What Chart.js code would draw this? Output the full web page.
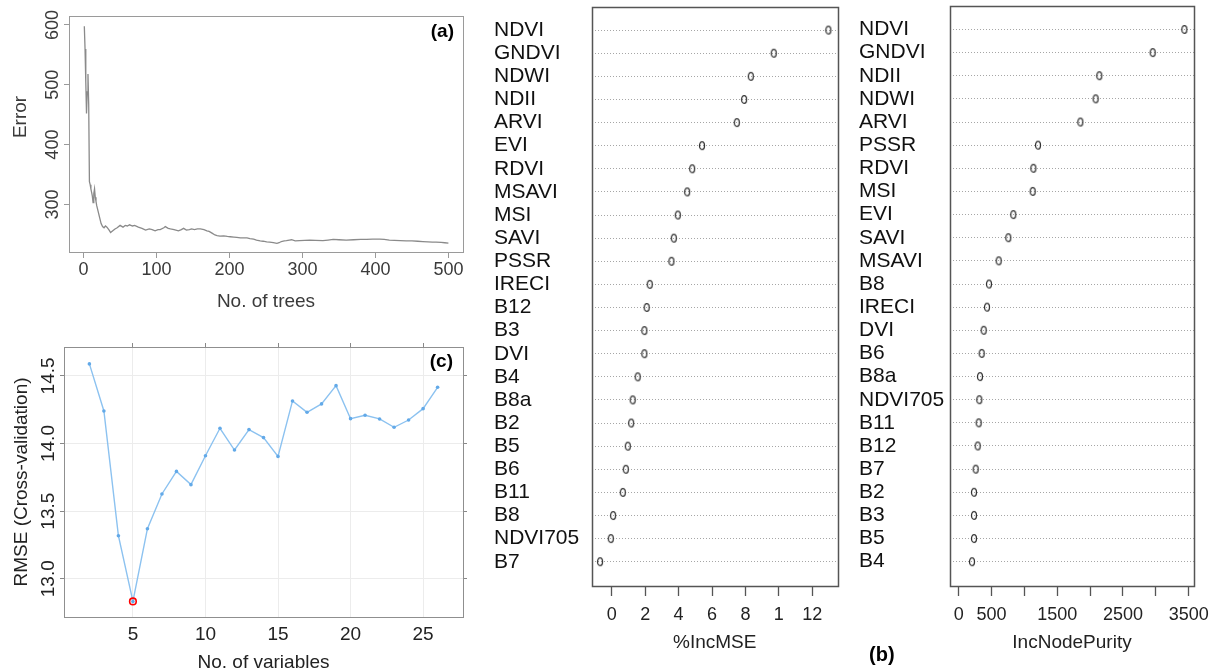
<!DOCTYPE html>
<html><head><meta charset="utf-8">
<script src="https://cdn.jsdelivr.net/npm/chart.js@4.4.1/dist/chart.umd.min.js"></script>
<style>
html,body{margin:0;padding:0;background:#fff;overflow:hidden;width:1220px;height:672px}
.p{position:absolute}
canvas{display:block}
</style></head><body>
<div class="p" style="left:0px;top:0px"><canvas id="ca" width="470" height="320"></canvas></div>
<div class="p" style="left:0px;top:330px"><canvas id="cc" width="470" height="350"></canvas></div>
<div class="p" style="left:480px;top:0px"><canvas id="cb1" width="370" height="672"></canvas></div>
<div class="p" style="left:850px;top:0px"><canvas id="cb2" width="370" height="672"></canvas></div>
<script>
// ---------- DATA ----------
// (a) OOB error vs number of trees
const treesX = [1,2,3,4,5,6,7,8,9,10,11,12,13,14,15,16,17,18,19,20,22,24,26,28,30,32,35,37,40,43,46,50,54,57,60,63,67,70,75,80,85,90,94,98,102,105,110,112,116,119,124,130,134,137,141,145,148,152,156,160,165,169,172,176,180,183,187,192,197,201,206,210,215,219,224,228,233,237,242,246,251,255,260,265,268,271,275,278,282,285,290,296,303,310,318,328,335,342,350,360,370,380,388,396,406,412,419,426,434,442,450,458,465,472,478,483,490,495,500];
const treesErr = [598,560,505,452,488,518,468,338,333,326,320,314,303,318,326,312,305,298,293,288,278,268,263,261,264,262,257,253,256,259,261,265,262,265,264,266,264,265,262,260,257,259,258,256,258,258,261,263,260,259,258,256,258,260,257,258,259,258,259,259,258,256,255,252,249,248,247,247.5,246.5,246,245.5,245,244,244,244,243,242,240.5,239,238.5,237.5,237,236,235,236,238,239,239.5,240.5,241,239,239.5,240,240.5,240,239.5,240.5,241.5,241,240.5,241,241.5,241.5,242,242,241.5,240.5,240,239.5,239,239,238.5,238,237.5,237,237,236.5,236,235.5];
const treeTicks = [0,100,200,300,400,500];
const errTicks = [300,400,500,600];

// (c) RMSE (cross-validation) vs number of variables
const nVars = [2,3,4,5,6,7,8,9,10,11,12,13,14,15,16,17,18,19,20,21,22,23,24,25,26];
const rmseCV = [14.589,14.241,13.318,12.832,13.370,13.627,13.794,13.696,13.910,14.113,13.952,14.103,14.044,13.905,14.315,14.231,14.293,14.428,14.184,14.209,14.182,14.120,14.174,14.258,14.416];
const varTicks = [5,10,15,20,25];
const rmseTicks = [13.0,13.5,14.0,14.5];

// (b) variable importance: %IncMSE
const mseNames = ['NDVI','GNDVI','NDWI','NDII','ARVI','EVI','RDVI','MSAVI','MSI','SAVI','PSSR','IRECI','B12','B3','DVI','B4','B8a','B2','B5','B6','B11','B8','NDVI705','B7'];
const incMSE = [12.96,9.69,8.32,7.92,7.48,5.40,4.81,4.51,3.95,3.71,3.57,2.27,2.09,1.95,1.95,1.55,1.25,1.16,0.96,0.84,0.66,0.08,-0.06,-0.70];
const mseTicks = [0,2,4,6,8,10,12];
const mseTickLabels = ['0','2','4','6','8','1','12'];

// (b) variable importance: IncNodePurity
const purityNames = ['NDVI','GNDVI','NDII','NDWI','ARVI','PSSR','RDVI','MSI','EVI','SAVI','MSAVI','B8','IRECI','DVI','B6','B8a','NDVI705','B11','B12','B7','B2','B3','B5','B4'];
const incNodePurity = [3434,2952,2140,2084,1851,1207,1136,1126,831,755,608,461,431,380,350,324,314,304,289,258,233,233,233,202];
const purityTicks = [0,500,1000,1500,2000,2500,3000,3500];
const purityTickLabels = ['0','500','','1500','','2500','','3500'];

// ---------- HELPERS ----------
const FF = "'Liberation Sans', Arial, Helvetica, sans-serif";
Chart.defaults.font.family = FF;

const extras = {
  id: 'extras',
  afterDraw(chart, args, o) {
    const ctx = chart.ctx, ca = chart.chartArea;
    ctx.save();
    if (o.box) {
      ctx.strokeStyle = o.box.color; ctx.lineWidth = o.box.width;
      ctx.strokeRect(Math.round(ca.left) + 0.5, Math.round(ca.top) + 0.5, Math.round(ca.right - ca.left), Math.round(ca.bottom - ca.top));
    }
    if (o.rotY) {
      const s = chart.scales[o.rotY.scale];
      ctx.font = o.rotY.font; ctx.fillStyle = o.rotY.color;
      ctx.textAlign = 'center'; ctx.textBaseline = 'middle';
      s.ticks.forEach(t => {
        const y = s.getPixelForValue(t.value);
        ctx.save(); ctx.translate(ca.left - o.rotY.gap, y); ctx.rotate(-Math.PI / 2);
        ctx.fillText(o.rotY.fmt(t.value), 0, 0); ctx.restore();
      });
    }
    if (o.yTitle) {
      ctx.font = o.yTitle.font; ctx.fillStyle = o.yTitle.color;
      ctx.textAlign = 'center'; ctx.textBaseline = 'middle';
      ctx.save(); ctx.translate(o.yTitle.x, (ca.top + ca.bottom) / 2 + o.yTitle.shift); ctx.rotate(-Math.PI / 2);
      ctx.fillText(o.yTitle.text, 0, 0); ctx.restore();
    }
    if (o.tag) {
      ctx.font = o.tag.font; ctx.fillStyle = '#000';
      ctx.textAlign = o.tag.align; ctx.textBaseline = 'middle';
      ctx.fillText(o.tag.text, o.tag.x(ca), o.tag.y(ca));
    }
    ctx.restore();
  }
};
Chart.register(extras);

function fixTicks(arr) { return s => { s.ticks = arr.map(v => ({ value: v })); }; }

// ---------- (a) ----------
new Chart(document.getElementById('ca'), {
  type: 'line',
  data: { datasets: [{
    data: treesX.map((x, i) => ({ x: x, y: treesErr[i] })),
    borderColor: '#8a8a8a', borderWidth: 1.3, pointRadius: 0, tension: 0, fill: false
  }] },
  options: {
    responsive: false, animation: false, events: [],
    layout: { padding: { left: 0, top: 16, right: 7, bottom: 0 } },
    plugins: { legend: { display: false }, tooltip: { enabled: false },
      extras: {
        box: { color: '#9a9a9a', width: 1 },
        rotY: { scale: 'y', gap: 16, font: '18px ' + FF, color: '#3a3a3a', fmt: v => String(v) },
        yTitle: { text: 'Error', x: 21, shift: -17, font: '19px ' + FF, color: '#3a3a3a' },
        tag: { text: '(a)', align: 'right', font: 'bold 19px ' + FF, x: ca => ca.right - 9, y: ca => ca.top + 16 }
      } },
    scales: {
      x: { type: 'linear', min: -20, max: 520, afterBuildTicks: fixTicks(treeTicks),
        ticks: { font: { size: 18 }, color: '#3a3a3a', padding: 1.2, maxRotation: 0, autoSkip: false },
        grid: { drawOnChartArea: false, drawTicks: true, tickLength: 6, tickColor: '#9a9a9a' },
        border: { display: false },
        title: { display: true, text: 'No. of trees', font: { size: 19 }, color: '#3a3a3a', padding: { top: 0, bottom: 6.6 } },
        afterFit: s => { s.height = 68; } },
      y: { type: 'linear', min: 220.5, max: 615, afterBuildTicks: fixTicks(errTicks),
        ticks: { display: false },
        grid: { drawOnChartArea: false, drawTicks: true, tickLength: 5, tickColor: '#9a9a9a' },
        border: { display: false },
        afterFit: s => { s.width = 69; } }
    }
  }
});

// ---------- (c) ----------
const best = rmseCV.indexOf(Math.min(...rmseCV));
new Chart(document.getElementById('cc'), {
  type: 'line',
  data: { datasets: [
    { data: [{ x: nVars[best], y: rmseCV[best] }], showLine: false, pointRadius: 3.3,
      pointBorderColor: '#ff0000', pointBackgroundColor: 'rgba(0,0,0,0)', pointBorderWidth: 1.6 },
    { data: nVars.map((x, i) => ({ x: x, y: rmseCV[i] })), borderColor: '#8cc2f0', borderWidth: 1.4,
      pointRadius: 1.8, pointBackgroundColor: '#62a9e8', pointBorderWidth: 0, tension: 0, fill: false }
  ] },
  options: {
    responsive: false, animation: false, events: [],
    layout: { padding: { left: 0, top: 13, right: 3, bottom: 0 } },
    plugins: { legend: { display: false }, tooltip: { enabled: false },
      extras: {
        box: { color: '#8f8f8f', width: 1 },
        rotY: { scale: 'y', gap: 15.5, font: '19px ' + FF, color: '#222', fmt: v => v.toFixed(1) },
        tag: { text: '(c)', align: 'right', font: 'bold 19px ' + FF, x: ca => ca.right - 10, y: ca => ca.top + 15 }
      } },
    scales: {
      x: { type: 'linear', position: 'bottom', min: 0.25, max: 27.75, afterBuildTicks: fixTicks(varTicks),
        ticks: { font: { size: 19 }, color: '#222', padding: 6.6, maxRotation: 0, autoSkip: false },
        grid: { color: '#ececec', drawTicks: false },
        border: { display: false },
        title: { display: true, text: 'No. of variables', font: { size: 19 }, color: '#222', padding: { top: 0, bottom: 5.6 } },
        afterFit: s => { s.height = 63; } },
      x2: { type: 'linear', position: 'top', min: 0.25, max: 27.75, afterBuildTicks: fixTicks(varTicks),
        ticks: { display: false },
        grid: { drawOnChartArea: false, drawTicks: true, tickLength: 4, tickColor: '#888' },
        border: { display: false },
        afterFit: s => { s.height = 4; } },
      y: { type: 'linear', position: 'left', min: 12.717, max: 14.714, afterBuildTicks: fixTicks(rmseTicks),
        ticks: { display: false },
        grid: { color: '#ececec', drawTicks: true, tickLength: 4, tickColor: '#888' },
        border: { display: false },
        title: { display: true, text: 'RMSE (Cross-validation)', font: { size: 19 }, color: '#222', padding: { top: 10.6, bottom: 0 } },
        afterFit: s => { s.width = 64; } },
      y2: { type: 'linear', position: 'right', min: 12.717, max: 14.714, afterBuildTicks: fixTicks(rmseTicks),
        ticks: { display: false },
        grid: { drawOnChartArea: false, drawTicks: true, tickLength: 4, tickColor: '#888' },
        border: { display: false },
        afterFit: s => { s.width = 4; } }
    }
  }
});

// ---------- (b) dot charts ----------
function ellipseMarker() {
  const c = document.createElement('canvas'); c.width = 8; c.height = 11;
  const g = c.getContext('2d');
  g.strokeStyle = '#333'; g.lineWidth = 1.3;
  g.beginPath(); g.ellipse(4, 5.5, 2.5, 3.9, 0, 0, Math.PI * 2); g.stroke();
  return c;
}
const marker = ellipseMarker();

function dotChart(id, names, values, ticks, tickLabels, xmin, xmax, title, pad, yWidth, tagOpt) {
  const rows = names.map((_, i) => i + 1);
  const pluginOpts = { box: { color: '#555', width: 1.5 } };
  if (tagOpt) pluginOpts.tag = tagOpt;
  return new Chart(document.getElementById(id), {
    type: 'scatter',
    data: { datasets: [{ data: values.map((v, i) => ({ x: v, y: rows[i] })), pointStyle: marker, pointRadius: 4 }] },
    options: {
      responsive: false, animation: false, events: [],
      layout: { padding: pad },
      plugins: { legend: { display: false }, tooltip: { enabled: false }, extras: pluginOpts },
      scales: {
        x: { type: 'linear', min: xmin, max: xmax, afterBuildTicks: fixTicks(ticks),
          ticks: { font: { size: 18 }, color: '#222', padding: 8, maxRotation: 0, autoSkip: false,
            callback: (v, i) => tickLabels[i] },
          grid: { drawOnChartArea: false, drawTicks: true, tickLength: 10, tickColor: '#555', tickWidth: 1.3 },
          border: { display: false },
          title: { display: true, text: title, font: { size: 19 }, color: '#222', padding: { top: 0, bottom: 17.6 } },
          afterFit: s => { s.height = 86; } },
        y: { type: 'linear', reverse: true, min: 0, max: 25.05, afterBuildTicks: fixTicks(rows),
          ticks: { font: { size: 21, lineHeight: 0.6 }, color: '#111', crossAlign: 'far', padding: 0, autoSkip: false,
            callback: v => names[v - 1] },
          grid: { display: true, drawOnChartArea: true, drawTicks: false, color: '#a6a6a6', lineWidth: 1 },
          border: { display: false, dash: [1, 2] },
          afterFit: s => { s.width = yWidth; } }
      }
    }
  });
}

dotChart('cb1', mseNames, incMSE, mseTicks, mseTickLabels, -1.2, 13.52, '%IncMSE',
  { left: 14, top: 7, right: 12.3, bottom: 0 }, 97.7, null);
dotChart('cb2', purityNames, incNodePurity, purityTicks, purityTickLabels, -132, 3581, 'IncNodePurity',
  { left: 9, top: 6, right: 26, bottom: 0 }, 91,
  { text: '(b)', align: 'left', font: 'bold 20px ' + FF, x: ca => 19, y: ca => 655 });
</script>
</body></html>
